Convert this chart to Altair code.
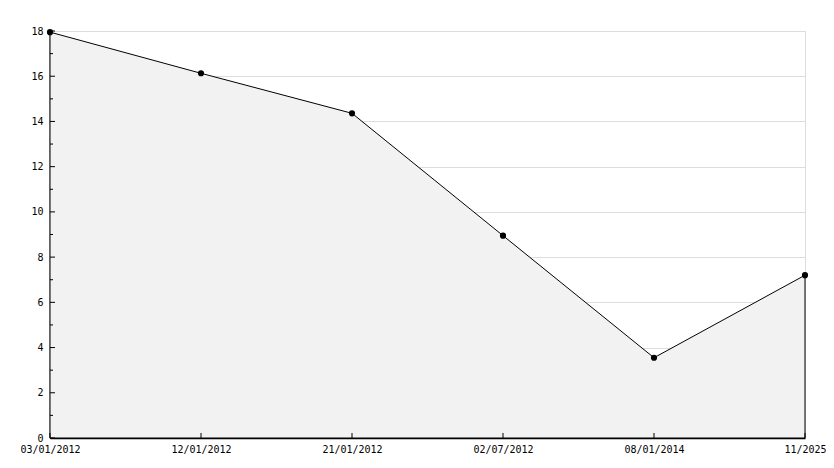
import altair as alt
import pandas as pd

dates = ["03/01/2012", "12/01/2012", "21/01/2012", "02/07/2012", "08/01/2014", "11/2025"]
values = [17.95, 16.13, 14.36, 8.95, 3.55, 7.2]
major_ticks = [0, 2, 4, 6, 8, 10, 12, 14, 16, 18]
minor_ticks = [1, 3, 5, 7, 9, 11, 13, 15, 17]

W, H = 755, 407
FONT = "DejaVu Sans Mono"

df = pd.DataFrame({"date": dates, "value": values})
major_df = pd.DataFrame({"t": major_ticks})
minor_df = pd.DataFrame({"t": minor_ticks})

x_enc = alt.X("date:N", sort=dates,
              scale=alt.Scale(type="point", padding=0),
              axis=alt.Axis(title=None, labelAngle=0, ticks=False, grid=False,
                            domainColor="black", domainWidth=1.5,
                            labelFont=FONT, labelFontSize=10, labelColor="black",
                            labelPadding=6, labelOverlap=False))
x_plain = alt.X("date:N", sort=dates)
y_enc = alt.Y("value:Q", scale=alt.Scale(domain=[0, 18], nice=False, zero=True),
              axis=alt.Axis(title=None, values=major_ticks, ticks=False, grid=True,
                            gridColor="#dddddd", gridWidth=1,
                            domainColor="black", domainWidth=1.5,
                            labelFont=FONT, labelFontSize=10, labelColor="black",
                            labelPadding=7, format="d"))

base = alt.Chart(df)
area = base.mark_area(fill="#f2f2f2", stroke="black", strokeWidth=1).encode(x=x_enc, y=y_enc)
pts = base.mark_point(shape="circle", filled=True, color="black", size=38, opacity=1).encode(
    x=x_plain, y="value:Q")

ymaj = alt.Chart(major_df).mark_rule(color="black", strokeWidth=1).encode(
    y=alt.Y("t:Q"), x=alt.value(0), x2=alt.value(5))
ymin = alt.Chart(minor_df).mark_rule(color="black", strokeWidth=1).encode(
    y=alt.Y("t:Q"), x=alt.value(0), x2=alt.value(3))
xt = base.mark_rule(color="black", strokeWidth=1).encode(
    x=x_plain, y=alt.value(H), y2=alt.value(H - 5))

chart = alt.layer(area, ymaj, ymin, xt, pts).properties(
    width=W, height=H,
    autosize=alt.AutoSizeParams(type="none"),
    padding={"left": 42, "top": 23, "right": 21, "bottom": 20},
).configure_view(stroke=None).configure(background="white")

chart.save("out.html", embed_options={"renderer": "svg", "actions": False})
